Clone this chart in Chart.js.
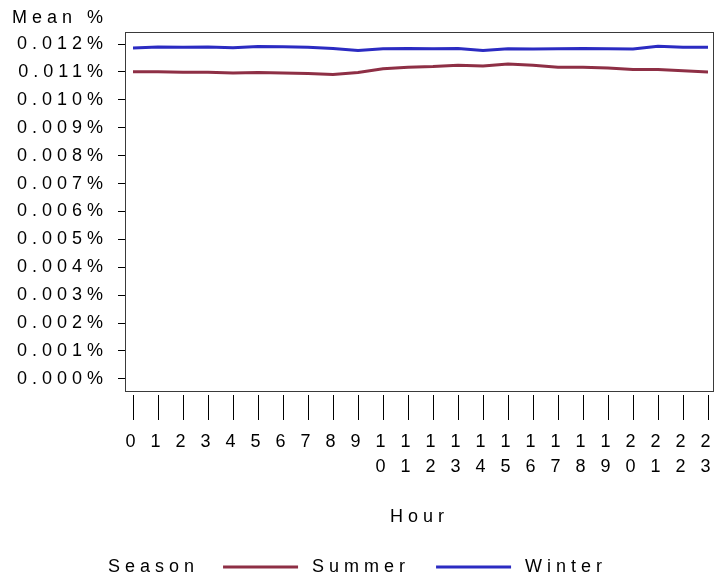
<!DOCTYPE html>
<html>
<head>
<meta charset="utf-8">
<script src="https://cdn.jsdelivr.net/npm/chart.js@4/dist/chart.umd.min.js"></script>
<style>
  html, body { margin: 0; padding: 0; background: #fff; }
  canvas { display: block; }
</style>
</head>
<body>
<canvas id="c" width="728" height="581"></canvas>
<script>
// ---- data ----
const hours = [0,1,2,3,4,5,6,7,8,9,10,11,12,13,14,15,16,17,18,19,20,21,22,23];
const summerValues = [0.01101,0.01101,0.01099,0.01099,0.01096,0.01098,0.01096,0.01094,0.01091,0.01098,
                      0.01111,0.01117,0.01119,0.01124,0.01121,0.01128,0.01124,0.01117,0.01117,0.01114,
                      0.01109,0.01109,0.01104,0.01100];
const winterValues = [0.01186,0.01189,0.01188,0.01189,0.01187,0.01191,0.01190,0.01188,0.01184,0.01177,
                      0.01183,0.01184,0.01183,0.01184,0.01177,0.01183,0.01182,0.01183,0.01184,0.01183,
                      0.01182,0.01192,0.01188,0.01188];
const yTickValues = [0,0.001,0.002,0.003,0.004,0.005,0.006,0.007,0.008,0.009,0.010,0.011,0.012];
const seriesNames = ['Summer','Winter'];
const legendTitle = 'Season';
const xTitle = 'Hour';
const yTitle = 'Mean %';

const FONT = "'Liberation Sans', Arial, sans-serif";
const FSIZE = 18;
const SPACING = '5px';

const spacingPlugin = {
  id: 'spacing',
  beforeUpdate(c) { c.ctx.letterSpacing = SPACING; },
  beforeLayout(c) { c.ctx.letterSpacing = SPACING; },
  beforeDraw(c) { c.ctx.letterSpacing = SPACING; }
};

const framePlugin = {
  id: 'frame',
  afterDatasetsDraw(c) {
    const a = c.chartArea, ctx = c.ctx;
    ctx.save();
    ctx.strokeStyle = '#3a3a3a';
    ctx.lineWidth = 1;
    ctx.strokeRect(Math.round(a.left) + 0.5, Math.round(a.top) + 0.5,
                   Math.round(a.right - a.left) - 1, Math.round(a.bottom - a.top) - 1);
    ctx.restore();
  }
};

// legend drawn at the bottom: "Season" then a line sample + name for each dataset
const legendPlugin = {
  id: 'seasonLegend',
  afterDraw(c) {
    const ctx = c.ctx;
    const y = c.height - 14;
    let x = c.chartArea.left - 17;
    ctx.save();
    ctx.letterSpacing = SPACING;
    ctx.font = FSIZE + 'px ' + FONT;
    ctx.fillStyle = '#000';
    ctx.textAlign = 'left';
    ctx.textBaseline = 'middle';
    ctx.fillText(legendTitle, x, y);
    x += ctx.measureText(legendTitle).width + 24;
    c.data.datasets.forEach(d => {
      ctx.fillStyle = d.borderColor;
      ctx.fillRect(x, y - 1.5, 75, 3);
      x += 75 + 14;
      ctx.fillStyle = '#000';
      ctx.fillText(d.label, x, y);
      x += ctx.measureText(d.label).width + 26;
    });
    ctx.restore();
  }
};

const toXY = vals => hours.map((h, i) => ({ x: h, y: vals[i] }));

new Chart(document.getElementById('c'), {
  type: 'line',
  data: {
    datasets: [
      { label: seriesNames[0], data: toXY(summerValues), borderColor: '#8e2f45', borderWidth: 3,
        pointRadius: 0, tension: 0, fill: false },
      { label: seriesNames[1], data: toXY(winterValues), borderColor: '#2b2bc2', borderWidth: 3,
        pointRadius: 0, tension: 0, fill: false }
    ]
  },
  options: {
    responsive: false,
    animation: false,
    layout: { padding: { left: 12, right: 14, top: 0, bottom: 40 } },
    scales: {
      x: {
        type: 'linear',
        min: -0.32, max: 23.24,
        afterBuildTicks(s) { s.ticks = hours.map(v => ({ value: v })); },
        afterFit(s) { s.height = 149; },
        border: { display: false },
        grid: { drawOnChartArea: false, drawTicks: true, tickLength: 28, color: '#000',
                tickColor: '#000', tickWidth: 1, tickBorderDash: [0, 3, 25, 100] },
        ticks: {
          autoSkip: false, maxRotation: 0, padding: 10, color: '#000',
          font: { family: FONT, size: FSIZE, lineHeight: 1.39 },
          callback: v => String(v).split('')
        },
        title: { display: true, text: xTitle, color: '#000', font: { family: FONT, size: FSIZE },
                 padding: { top: 0, bottom: 13 } }
      },
      y: {
        type: 'linear',
        min: -0.00047, max: 0.01243,
        afterBuildTicks(s) { s.ticks = yTickValues.map(v => ({ value: v })); },
        afterFit(s) { s.width = 113; },
        border: { display: false },
        grid: { drawOnChartArea: false, drawTicks: true, tickLength: 7, tickColor: '#000', tickWidth: 1 },
        ticks: {
          autoSkip: false, padding: 10, color: '#000',
          font: { family: FONT, size: FSIZE },
          callback: v => v.toFixed(3) + '%'
        }
      }
    },
    plugins: {
      title: { display: true, text: yTitle, align: 'start', color: '#000',
               font: { family: FONT, size: FSIZE, weight: 'normal' }, padding: { top: 7, bottom: 3.4 } },
      legend: { display: false },
      tooltip: { enabled: false }
    }
  },
  plugins: [spacingPlugin, framePlugin, legendPlugin]
});
</script>
</body>
</html>
